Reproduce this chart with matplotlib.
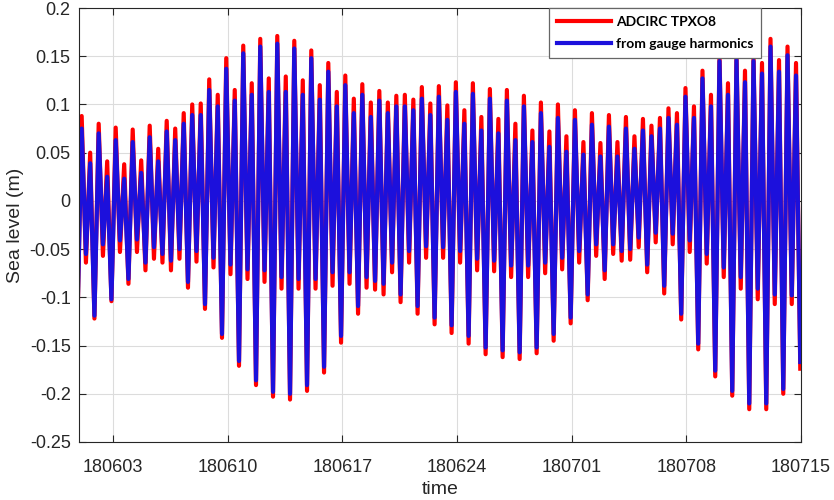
import numpy as np
import matplotlib
matplotlib.use('Agg')
import matplotlib.pyplot as plt
import matplotlib.dates as mdates
import datetime

# high / low water levels (m), in time order
adcirc_high = [0.088, 0.050, 0.080, 0.041, 0.076, 0.038, 0.074, 0.042, 0.078, 0.054,
               0.083, 0.075, 0.091, 0.100, 0.101, 0.126, 0.110, 0.148, 0.115, 0.161,
               0.122, 0.168, 0.127, 0.171, 0.129, 0.166, 0.125, 0.156, 0.120, 0.143,
               0.113, 0.130, 0.106, 0.121, 0.102, 0.114, 0.102, 0.109, 0.110, 0.105,
               0.118, 0.101, 0.119, 0.099, 0.123, 0.094, 0.122, 0.087, 0.116, 0.085,
               0.115, 0.080, 0.109, 0.073, 0.102, 0.072, 0.100, 0.067, 0.094, 0.061,
               0.091, 0.060, 0.089, 0.061, 0.087, 0.067, 0.085, 0.078, 0.086, 0.096,
               0.091, 0.117, 0.098, 0.135, 0.110, 0.153, 0.122, 0.154, 0.135, 0.153,
               0.143, 0.168, 0.146, 0.160, 0.143]
adcirc_low = [-0.130, -0.064, -0.122, -0.057, -0.104, -0.053, -0.086, -0.053, -0.072, -0.060,
              -0.064, -0.072, -0.060, -0.090, -0.063, -0.112, -0.069, -0.142, -0.076, -0.171,
              -0.081, -0.191, -0.084, -0.203, -0.091, -0.206, -0.091, -0.197, -0.091, -0.178,
              -0.088, -0.147, -0.086, -0.117, -0.090, -0.092, -0.097, -0.074, -0.105, -0.064,
              -0.117, -0.059, -0.128, -0.059, -0.137, -0.064, -0.148, -0.072, -0.159, -0.073,
              -0.162, -0.079, -0.164, -0.079, -0.158, -0.075, -0.145, -0.071, -0.127, -0.064,
              -0.103, -0.057, -0.081, -0.055, -0.062, -0.061, -0.048, -0.074, -0.043, -0.096,
              -0.045, -0.123, -0.053, -0.154, -0.065, -0.182, -0.079, -0.202, -0.091, -0.216,
              -0.102, -0.216, -0.107, -0.200, -0.107, -0.174]
gauge_high = [0.075, 0.039, 0.070, 0.025, 0.063, 0.023, 0.061, 0.029, 0.066, 0.041,
              0.072, 0.063, 0.080, 0.089, 0.089, 0.115, 0.098, 0.137, 0.104, 0.153,
              0.110, 0.160, 0.113, 0.163, 0.113, 0.158, 0.110, 0.148, 0.105, 0.134,
              0.098, 0.120, 0.091, 0.110, 0.087, 0.104, 0.091, 0.098, 0.098, 0.094,
              0.106, 0.089, 0.108, 0.084, 0.113, 0.080, 0.111, 0.073, 0.106, 0.070,
              0.104, 0.063, 0.098, 0.061, 0.091, 0.056, 0.086, 0.051, 0.084, 0.048,
              0.079, 0.046, 0.077, 0.046, 0.075, 0.054, 0.073, 0.067, 0.075, 0.086,
              0.079, 0.108, 0.086, 0.127, 0.098, 0.145, 0.110, 0.146, 0.123, 0.145,
              0.132, 0.160, 0.134, 0.151, 0.130]
gauge_low = [-0.125, -0.055, -0.119, -0.045, -0.102, -0.041, -0.081, -0.040, -0.064, -0.048,
             -0.055, -0.062, -0.050, -0.084, -0.052, -0.107, -0.059, -0.138, -0.066, -0.166,
             -0.071, -0.186, -0.072, -0.198, -0.079, -0.200, -0.081, -0.191, -0.081, -0.172,
             -0.074, -0.140, -0.074, -0.109, -0.079, -0.083, -0.086, -0.064, -0.097, -0.052,
             -0.109, -0.047, -0.121, -0.048, -0.129, -0.052, -0.140, -0.060, -0.152, -0.062,
             -0.155, -0.067, -0.157, -0.067, -0.152, -0.064, -0.138, -0.059, -0.121, -0.052,
             -0.097, -0.045, -0.072, -0.045, -0.052, -0.050, -0.038, -0.066, -0.033, -0.088,
             -0.034, -0.117, -0.041, -0.148, -0.055, -0.176, -0.069, -0.197, -0.079, -0.210,
             -0.091, -0.210, -0.097, -0.195, -0.098, -0.167]

start = datetime.datetime(2018, 6, 1)
first_high = start + datetime.timedelta(hours=2.1)
period_h = 12.46


def zigzag(high, low):
    # low, high, low, high, ... low
    vals = [low[0]]
    for h, l in zip(high, low[1:]):
        vals += [h, l]
    return np.array(vals)


n = len(adcirc_high)
half_steps = np.arange(-1, 2 * n)
times = [first_high + datetime.timedelta(hours=period_h * k / 2) for k in half_steps]

fig = plt.figure(figsize=(8.34, 5.0), dpi=100)
ax = fig.add_axes([0.0947, 0.116, 0.8657, 0.868])

ax.plot(times, zigzag(adcirc_high, adcirc_low), color='#ff0000', lw=3.0,
        solid_joinstyle='round', label='ADCIRC TPXO8')
ax.plot(times, zigzag(gauge_high, gauge_low), color='#1c10dc', lw=3.0,
        solid_joinstyle='round', label='from gauge harmonics')

ax.set_xlim(start - datetime.timedelta(hours=1.85), datetime.datetime(2018, 7, 15))
ax.set_ylim(-0.25, 0.2)
ax.set_yticks(np.arange(-0.25, 0.201, 0.05))
ax.set_yticklabels(['-0.25', '-0.2', '-0.15', '-0.1', '-0.05', '0', '0.05', '0.1', '0.15', '0.2'])
ax.xaxis.set_major_locator(mdates.WeekdayLocator(byweekday=mdates.SU))
ax.xaxis.set_major_formatter(mdates.DateFormatter('%y%m%d'))

txt = '#262626'
ax.tick_params(direction='in', top=True, right=True, length=5, width=0.8,
               labelsize=13, colors=txt)
ax.tick_params(axis='x', pad=12)
ax.tick_params(axis='y', pad=6)
for lab in ax.get_xticklabels() + ax.get_yticklabels():
    lab.set_fontfamily('Liberation Sans')
for s in ax.spines.values():
    s.set_color(txt)
    s.set_linewidth(0.8)
ax.grid(True, color='#dcdcdc', lw=0.8)
ax.set_axisbelow(True)

ax.set_xlabel('time', fontsize=14, family='Liberation Sans', color=txt, labelpad=4)
ax.set_ylabel('Sea level (m)', fontsize=14, family='Liberation Sans', color=txt, labelpad=4)

leg = ax.legend(loc='upper left', bbox_to_anchor=(0.651, 1.0),
                prop={'family': 'Lato', 'size': 10.0, 'weight': 'bold'},
                handlelength=3.9, handletextpad=0.4, borderpad=0.55, labelspacing=0.75,
                fancybox=False, framealpha=1, edgecolor='#666666', borderaxespad=0)
leg.get_frame().set_linewidth(0.9)

fig.savefig('out.png', dpi=100)
